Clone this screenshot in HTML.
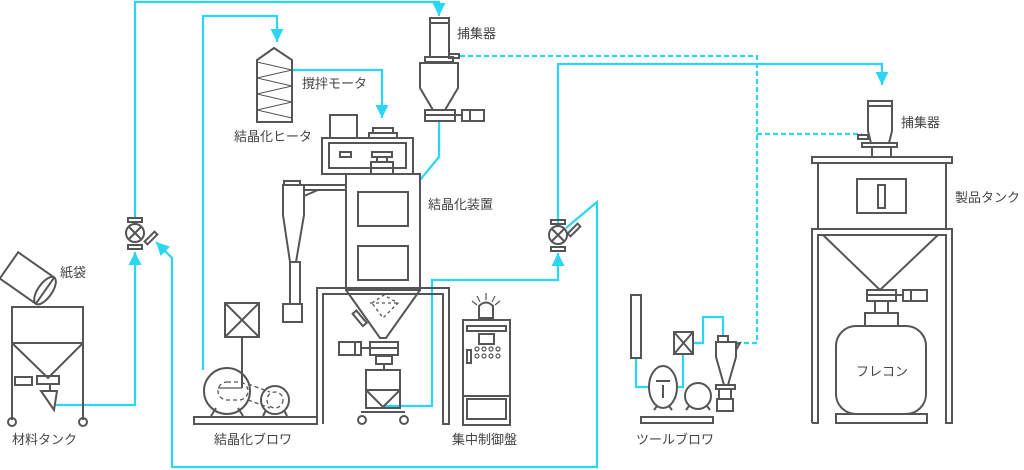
<!DOCTYPE html>
<html><head><meta charset="utf-8"><style>
html,body{margin:0;padding:0;background:#fff;}
svg{display:block}
text{font-family:"Liberation Sans","Noto Sans CJK JP",sans-serif;font-size:13px;fill:#444}
</style></head><body>
<svg width="1024" height="470" viewBox="0 0 1024 470" xmlns="http://www.w3.org/2000/svg">
<defs>
<marker id="ar" viewBox="0 0 10 10" refX="10" refY="5" markerWidth="6" markerHeight="6" orient="auto-start-reverse" markerUnits="strokeWidth"><path d="M0,0 L10,5 L0,10z" fill="#2ad6f3"/></marker>
</defs>
<!-- cyan lines -->
<g fill="none" stroke="#2ad6f3" stroke-width="2.2">
<polyline points="135,218 135,2 439,2 439,16" marker-end="url(#ar)"/>
<polyline points="203,370 203,16 277,16 277,42" marker-end="url(#ar)"/>
<polyline points="292,70 382,70 382,118" marker-end="url(#ar)"/>
<polyline points="439,122 439,157 420,180"/>
<polyline points="55,405 135,405 135,252" marker-end="url(#ar)"/>
<polyline points="558,226 558,64 882,64 882,85" marker-end="url(#ar)"/>
<polyline points="566,228 597,202 597,467 172,467 172,258 156,242" marker-end="url(#ar)"/>
<polyline points="384,406 432,406 432,280 558,280 558,253" marker-end="url(#ar)"/>
<polyline points="636,358 636,387 650,387"/>
<polyline points="677,387 683,387 683,354"/>
<polyline points="692,343 703,343 703,317 723,317 723,336"/>
<g stroke-dasharray="5,3">
<polyline points="460,56 757,56 757,343 737,343"/>
<polyline points="757,134 862,134"/>
</g>
</g>
<g fill="none" stroke="#555" stroke-width="2">
<!-- material tank -->
<g transform="rotate(35 27 278)"><rect x="5" y="262" width="44" height="32"/><ellipse cx="49" cy="278" rx="7" ry="16"/></g>
<polyline points="12,420 12,307 83,307 83,420"/>
<line x1="12" y1="343" x2="83" y2="343"/>
<polyline points="12,343 48,378 83,343"/>
<rect x="15" y="377" width="17" height="8"/><rect x="37" y="376" width="22" height="8"/>
<line x1="50" y1="384" x2="50" y2="391"/>
<polygon points="41,391 57,391 54,410"/>
<circle cx="12" cy="422" r="4"/><circle cx="83" cy="422" r="4"/>
<!-- valve 1 -->
<circle cx="135" cy="233" r="9"/><line x1="129" y1="227" x2="141" y2="239"/><line x1="141" y1="227" x2="129" y2="239"/>
<rect x="128" y="218" width="14" height="4"/><rect x="128" y="245" width="14" height="4"/>
<rect x="144" y="236" width="14" height="4" transform="rotate(-45 151 238)"/>
<!-- valve 2 -->
<circle cx="558" cy="235" r="9"/><line x1="552" y1="229" x2="564" y2="241"/><line x1="564" y1="229" x2="552" y2="241"/>
<rect x="551" y="220" width="14" height="4"/><rect x="551" y="247" width="14" height="4"/>
<rect x="567" y="228" width="14" height="4" transform="rotate(-45 574 230)"/>
<!-- heater -->
<polygon points="257,122 257,60 274,48 292,60 292,122"/>
<polyline points="257,62 292,70 257,78 292,86 257,94 292,102 257,110 292,118" stroke-width="1"/>
<!-- top collector -->
<rect x="430" y="18" width="19" height="5"/><rect x="430" y="23" width="19" height="34"/>
<rect x="449" y="54" width="10" height="4"/>
<rect x="425" y="57" width="28" height="5"/>
<polygon points="420,63 458,63 458,88 445,110 433,110 420,88"/>
<rect x="425" y="110" width="30" height="11"/><line x1="425" y1="115" x2="455" y2="115"/>
<rect x="462" y="110" width="22" height="11"/><line x1="455" y1="115" x2="462" y2="115"/><line x1="470" y1="110" x2="470" y2="121"/>
<!-- crystallizer -->
<rect x="330" y="115" width="27" height="23"/>
<rect x="373" y="128" width="20" height="5"/><rect x="369" y="133" width="28" height="5"/>
<rect x="322" y="138" width="91" height="36"/>
<rect x="329" y="143" width="77" height="25"/>
<rect x="340" y="152" width="11" height="5"/><rect x="372" y="152" width="20" height="5"/>
<rect x="377" y="157" width="10" height="5"/><rect x="371" y="162" width="22" height="12"/>
<rect x="346" y="174" width="74" height="116"/>
<rect x="358" y="192" width="50" height="34"/><rect x="358" y="246" width="50" height="34"/>
<polyline points="346,290 380,338 386,338 420,290"/>
<g stroke-width="1.3" stroke-dasharray="3,3"><polygon points="372,303 384,295 398,303 383,318"/><line x1="370" y1="303" x2="400" y2="303"/></g>
<rect x="352" y="316" width="16" height="5" transform="rotate(50 360 318)"/>
<rect x="370" y="342" width="28" height="13"/><line x1="370" y1="348" x2="398" y2="348"/>
<rect x="339" y="342" width="22" height="13"/><line x1="361" y1="348" x2="370" y2="348"/><line x1="355" y1="342" x2="355" y2="355"/>
<rect x="376" y="356" width="16" height="8"/><line x1="384" y1="364" x2="384" y2="370"/>
<rect x="366" y="370" width="34" height="38"/><line x1="366" y1="390" x2="400" y2="390"/><polyline points="366,390 383,407 400,390"/>
<line x1="361" y1="412" x2="405" y2="412"/><circle cx="362" cy="420" r="4"/><circle cx="404" cy="420" r="4"/>
<!-- frame -->
<polyline points="317,424 317,288 449,288 449,424 443,424 443,294 323,294 323,424"/>
<rect x="194" y="417" width="123" height="7"/>
<!-- left cyclone -->
<rect x="284" y="181" width="16" height="4"/>
<polygon points="283,185 304,185 304,215 296,262 290,262 283,215"/>
<line x1="305" y1="185" x2="346" y2="185"/><line x1="305" y1="190" x2="346" y2="190"/>
<polyline points="304,196 318,190"/>
<rect x="290" y="262" width="10" height="42"/>
<rect x="283" y="304" width="19" height="18"/>
<!-- blower -->
<rect x="225" y="303" width="34" height="34"/><line x1="225" y1="303" x2="259" y2="337"/><line x1="259" y1="303" x2="225" y2="337"/>
<line x1="242" y1="337" x2="242" y2="388"/>
<circle cx="227" cy="391" r="23"/><circle cx="275" cy="400" r="14"/>
<g stroke-width="1.3" stroke-dasharray="4,3"><rect x="218" y="382" width="30" height="18" rx="9"/><circle cx="275" cy="400" r="8"/><line x1="248" y1="384" x2="270" y2="392"/><line x1="248" y1="400" x2="270" y2="408"/></g>
<line x1="242" y1="388" x2="218" y2="388" stroke-width="1.3"/>
<polyline points="211,416 216,408"/><polyline points="243,416 238,408"/>
<polyline points="263,416 266,410"/><polyline points="287,416 284,410"/>
<!-- control panel -->
<rect x="463" y="320" width="47" height="105"/>
<rect x="467" y="326" width="39" height="5"/><rect x="479" y="334" width="15" height="10"/>
<rect x="467" y="350" width="4" height="13"/>
<g stroke-width="1.2"><circle cx="477" cy="349" r="2"/><circle cx="484" cy="349" r="2"/><circle cx="491" cy="349" r="2"/><circle cx="498" cy="349" r="2"/><circle cx="477" cy="356" r="2"/><circle cx="484" cy="356" r="2"/><circle cx="491" cy="356" r="2"/><circle cx="498" cy="356" r="2"/></g>
<line x1="463" y1="396" x2="510" y2="396"/><rect x="467" y="399" width="39" height="20"/>
<path d="M479,318 L479,306 Q486,299 493,306 L493,318 Z"/><line x1="479" y1="318" x2="493" y2="318"/>
<g stroke-width="1.2"><line x1="486" y1="300" x2="486" y2="293"/><line x1="480" y1="302" x2="477" y2="296"/><line x1="492" y1="302" x2="495" y2="296"/><line x1="477" y1="305" x2="472" y2="301"/><line x1="495" y1="305" x2="500" y2="301"/></g>
<!-- tool blower -->
<rect x="631" y="295" width="10" height="63"/>
<ellipse cx="663" cy="387" rx="14" ry="21"/><line x1="656" y1="381" x2="670" y2="381"/><line x1="663" y1="385" x2="663" y2="398"/>
<circle cx="698" cy="396" r="13"/>
<polyline points="654,410 657,406"/><polyline points="672,410 669,406"/><polyline points="686,410 689,406"/><polyline points="710,410 707,406"/>
<rect x="641" y="417" width="72" height="6"/>
<rect x="674" y="332" width="19" height="22"/><line x1="674" y1="332" x2="693" y2="354"/><line x1="693" y1="332" x2="674" y2="354"/>
<rect x="718" y="336" width="10" height="6"/>
<polygon points="716,342 736,342 736,357 728,385 724,385 716,357"/>
<polyline points="736,344 740,343 736,350"/>
<rect x="716" y="385" width="19" height="4"/>
<rect x="719" y="389" width="12" height="10"/><rect x="717" y="399" width="16" height="12"/>
<!-- product collector -->
<rect x="868" y="101" width="24" height="5"/><polygon points="868,106 892,106 892,131 889,143 871,143 868,131"/>
<rect x="858" y="135" width="10" height="4"/>
<rect x="862" y="143" width="35" height="4"/><rect x="872" y="147" width="19" height="10"/>
<!-- product tank -->
<rect x="812" y="157" width="140" height="6"/>
<polyline points="818,163 818,229 946,229 946,163"/>
<rect x="857" y="179" width="49" height="34"/><rect x="878" y="185" width="7" height="23"/>
<polyline points="812,423 812,229 952,229 952,423 946,423 946,235 818,235 818,423 812,423"/>
<polyline points="823,235 880,290 938,235"/>
<rect x="867" y="290" width="29" height="11"/><line x1="867" y1="295" x2="896" y2="295"/>
<rect x="903" y="290" width="24" height="11"/><line x1="896" y1="295" x2="903" y2="295"/><line x1="911" y1="290" x2="911" y2="301"/>
<rect x="875" y="301" width="13" height="12"/><rect x="865" y="313" width="33" height="13"/>
<rect x="836" y="326" width="90" height="88" rx="20"/>
<rect x="836" y="414" width="91" height="9"/>
</g>
<!-- labels -->
<text x="60" y="277">紙袋</text>
<text x="12" y="444">材料タンク</text>
<text x="234" y="141">結晶化ヒータ</text>
<text x="302" y="88">撹拌モータ</text>
<text x="457" y="38">捕集器</text>
<text x="428" y="209">結晶化装置</text>
<text x="214" y="444">結晶化ブロワ</text>
<text x="452" y="444">集中制御盤</text>
<text x="636" y="444">ツールブロワ</text>
<text x="901" y="127">捕集器</text>
<text x="955" y="202">製品タンク</text>
<text x="856" y="376">フレコン</text>
</svg>
</body></html>
